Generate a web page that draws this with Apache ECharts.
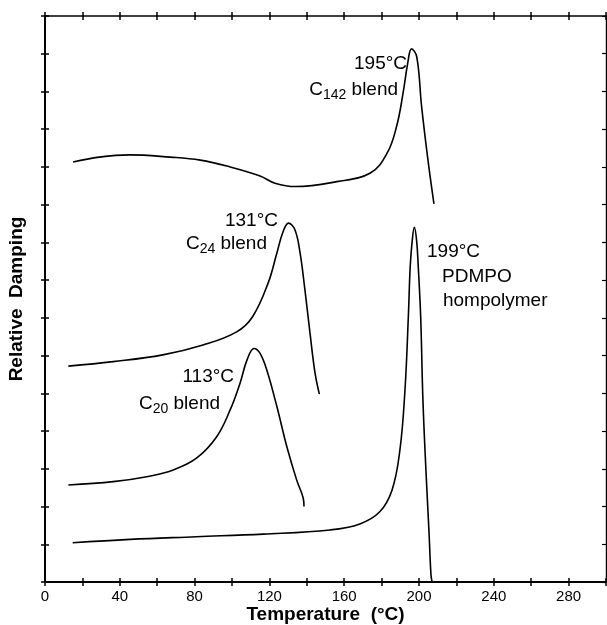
<!DOCTYPE html>
<html>
<head>
<meta charset="utf-8">
<script src="https://cdn.jsdelivr.net/npm/echarts@6/dist/echarts.min.js"></script>
<style>
  html, body { margin: 0; padding: 0; background: #fff; }
  #main { width: 607px; height: 625px; }
</style>
</head>
<body>
<div id="main"></div>
<script>
// values (temperature in °C, damping in relative units)
const c142Temp = [15, 29, 45, 67, 83, 99, 115, 123, 134, 156, 174, 183, 188, 191.5, 194, 196, 198.8, 201.4, 204.8, 208];
const c142Damp = [11.13, 11.26, 11.32, 11.26, 11.18, 11.0, 10.76, 10.57, 10.48, 10.61, 10.84, 11.37, 12.07, 12.96, 13.76, 14.13, 13.92, 12.6, 11.18, 10.02];

const c24Temp = [12.5, 36.5, 63, 84.5, 102.5, 111, 119.3, 124, 127.3, 130.2, 133.7, 136.4, 139, 141.7, 144.4, 146.7];
const c24Damp = [5.72, 5.84, 6.02, 6.28, 6.63, 7.03, 7.92, 8.72, 9.28, 9.51, 9.33, 8.72, 7.74, 6.6, 5.54, 4.98];

const c20Temp = [12.5, 36.5, 54.4, 68.6, 81, 91.8, 99, 104.3, 108, 111.8, 115, 118.6, 124, 129.3, 134.6, 138.1, 138.5];
const c20Damp = [2.57, 2.66, 2.79, 2.97, 3.28, 3.85, 4.56, 5.27, 5.88, 6.19, 6.06, 5.62, 4.65, 3.59, 2.7, 2.22, 2.0];

const pdmpoTemp = [14.8, 45.5, 81, 116.7, 152.4, 168.4, 179, 185.6, 189.8, 192.5, 194.3, 195.3, 196.4, 197.5, 198.7, 199.6, 200.9, 202.1, 203.7, 205.3, 206.4, 207];
const pdmpoDamp = [1.04, 1.13, 1.2, 1.27, 1.38, 1.54, 1.86, 2.44, 3.5, 5.09, 7.03, 8.36, 9.06, 9.4, 9.06, 8.36, 7.03, 4.82, 2.97, 1.38, 0.19, 0];

// annotation text and where it sits (data coords), align = which side the anchor is
const noteText = ['195°C', 'C{s|142} blend', '131°C', 'C{s|24} blend', '113°C', 'C{s|20} blend', '199°C', 'PDMPO', 'hompolymer'];
const noteTemp = [193.6, 188.8, 124.6, 118.7, 101.1, 93.6, 204.3, 212.3, 212.8];
const noteDamp = [13.98, 13.36, 9.82, 9.27, 5.69, 5.03, 9.0, 8.34, 7.7];
const noteAlign = ['right', 'right', 'right', 'right', 'right', 'right', 'left', 'left', 'left'];

const xTicks = [0, 40, 80, 120, 160, 200, 240, 280];

function pairs(xs, ys) {
  return xs.map(function (x, i) { return [x, ys[i]]; });
}

const myChart = echarts.init(document.getElementById('main'));

const gridBox = { left: 45, top: 16, right: 1, bottom: 43, outerBoundsMode: 'none', containLabel: false };
const tickStyle = { color: '#000', width: 1.5 };

function xAx(grid, pos, extra) {
  const ax = Object.assign({
    type: 'value', min: 0, max: 300, interval: 20, gridIndex: grid, position: pos,
    splitLine: { show: false }, axisLabel: { show: false }
  }, extra);
  ax.axisLine = Object.assign({ show: false }, extra.axisLine, { onZero: false });
  return ax;
}
function yAx(grid, pos, extra) {
  const ax = Object.assign({
    type: 'value', min: 0, max: 15, interval: 1, gridIndex: grid, position: pos,
    splitLine: { show: false }, axisLabel: { show: false }
  }, extra);
  ax.axisLine = Object.assign({ show: false }, extra.axisLine, { onZero: false });
  return ax;
}

function curve(name, xs, ys) {
  return {
    name: name,
    type: 'line',
    smooth: 0.4,
    symbol: 'none',
    xAxisIndex: 0,
    yAxisIndex: 0,
    data: pairs(xs, ys),
    lineStyle: { color: '#000', width: 1.6 },
    silent: true
  };
}

const option = {
  backgroundColor: '#fff',
  animation: false,
  grid: [gridBox, gridBox],
  xAxis: [
    // grid 0: frame, outer ticks at bottom, inner at top
    xAx(0, 'bottom', {
      axisLine: { show: true, lineStyle: { color: '#000', width: 2 } },
      axisTick: { inside: false, length: 4, lineStyle: tickStyle },
      axisLabel: {
        show: true, color: '#000', fontSize: 15, fontFamily: 'Liberation Sans, Arial', margin: 7,
        formatter: function (v) { return xTicks.indexOf(v) >= 0 ? String(v) : ''; }
      },
      name: 'Temperature  (°C)', nameLocation: 'middle', nameGap: 23, nameMoveOverlap: false,
      nameTextStyle: { color: '#000', fontSize: 19, fontWeight: 'bold', fontFamily: 'Liberation Sans, Arial', verticalAlign: 'top' }
    }),
    xAx(0, 'top', {
      axisLine: { show: true, lineStyle: { color: '#000', width: 1.6 } },
      axisTick: { inside: true, length: 4, lineStyle: tickStyle }
    }),
    // grid 1: the other half of each crossing tick
    xAx(1, 'bottom', { axisTick: { inside: true, length: 4, lineStyle: tickStyle } }),
    xAx(1, 'top', { axisTick: { inside: false, length: 4, lineStyle: tickStyle } })
  ],
  yAxis: [
    yAx(0, 'left', {
      axisLine: { show: true, lineStyle: { color: '#000', width: 2 } },
      axisTick: { inside: false, length: 4, lineStyle: tickStyle },
      name: 'Relative  Damping', nameLocation: 'middle', nameGap: 19, nameRotate: 90, nameMoveOverlap: false,
      nameTextStyle: { color: '#000', fontSize: 19, fontWeight: 'bold', fontFamily: 'Liberation Sans, Arial' }
    }),
    yAx(0, 'right', {
      axisLine: { show: true, lineStyle: { color: '#000', width: 1.4 } },
      axisTick: { inside: true, length: 4, lineStyle: { color: '#000', width: 1.2 } }
    }),
    yAx(1, 'left', { axisTick: { inside: true, length: 4, lineStyle: tickStyle } }),
    yAx(1, 'right', { axisTick: { show: false } })
  ],
  series: [
    curve('C142 blend', c142Temp, c142Damp),
    curve('C24 blend', c24Temp, c24Damp),
    curve('C20 blend', c20Temp, c20Damp),
    curve('PDMPO hompolymer', pdmpoTemp, pdmpoDamp)
  ]
};

myChart.setOption(option);

// annotations placed from data coordinates
const notes = noteText.map(function (t, i) {
  const p = myChart.convertToPixel({ xAxisIndex: 0, yAxisIndex: 0 }, [noteTemp[i], noteDamp[i]]);
  return {
    type: 'text',
    x: p[0],
    y: p[1],
    silent: true,
    style: {
      text: t,
      fill: '#000',
      align: noteAlign[i],
      verticalAlign: 'top',
      font: '19px "Liberation Sans", Arial',
      rich: {
        s: { fontSize: 14, fontFamily: 'Liberation Sans', padding: [10, 0, 0, 0], fill: '#000' }
      }
    }
  };
});
myChart.setOption({ graphic: notes });
</script>
</body>
</html>
